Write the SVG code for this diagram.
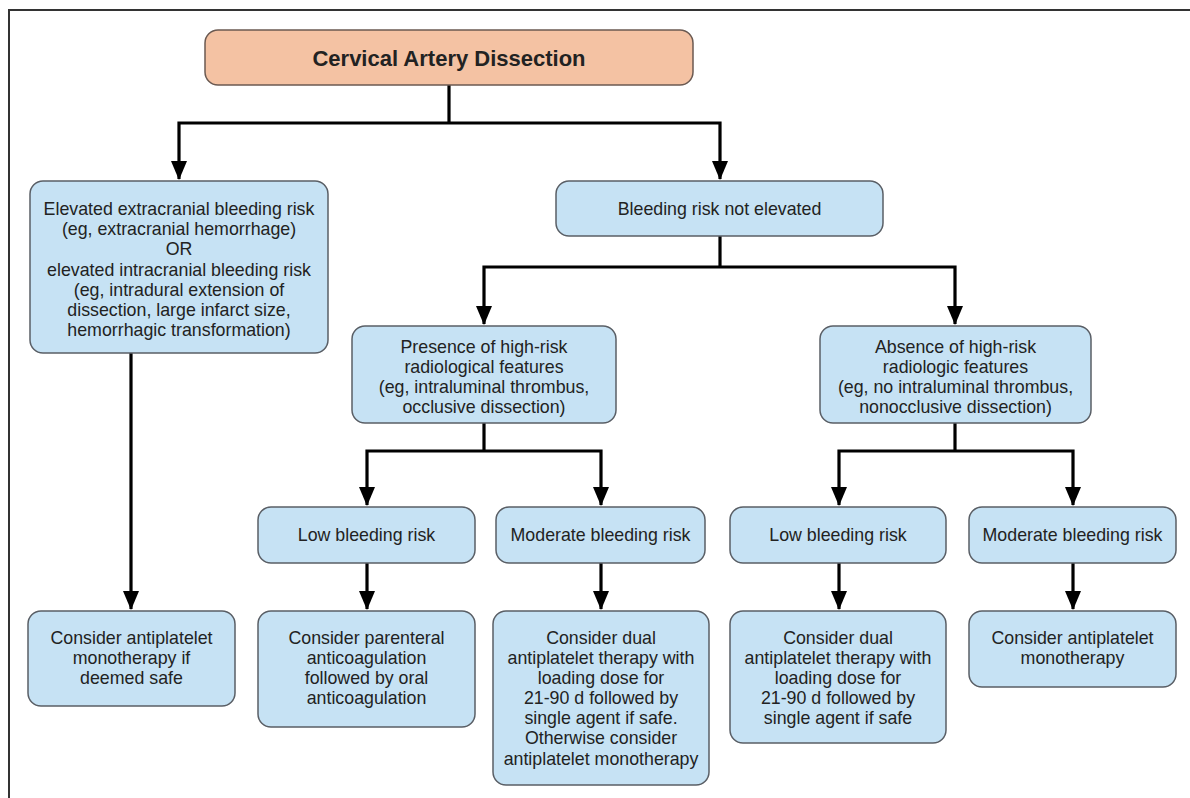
<svg xmlns="http://www.w3.org/2000/svg" width="1190" height="798" viewBox="0 0 1190 798">
<style>
  .box { fill: #c6e2f4; stroke: #5a5f66; stroke-width: 1.5; }
  .top { fill: #f4c2a3; stroke: #6b5a52; stroke-width: 1.5; }
  text { font-family: "Liberation Sans", Arial, sans-serif; font-size: 17.8px; fill: #222; text-anchor: middle; }
  .title { font-size: 22px; font-weight: bold; }
  .conn path { fill: none; stroke: #000; stroke-width: 3.2; }
  .frame { fill: none; stroke: #333; stroke-width: 2; }
</style>
<defs>
  <marker id="arr" viewBox="0 0 19 16" refX="18" refY="8" markerWidth="19" markerHeight="16" markerUnits="userSpaceOnUse" orient="auto">
    <path d="M0,0 L19,8 L0,16 Z" fill="#000"/>
  </marker>
</defs>
<rect width="1190" height="798" fill="#fff"/>
<path class="frame" d="M9,798 V10 H1190"/>

<g class="conn" id="connectors">
  <path d="M449,85 V123"/>
  <path d="M449,123 H179 V179" marker-end="url(#arr)"/>
  <path d="M449,123 H720 V179" marker-end="url(#arr)"/>
  <path d="M720,236 V267"/>
  <path d="M720,267 H484 V324" marker-end="url(#arr)"/>
  <path d="M720,267 H955 V324" marker-end="url(#arr)"/>
  <path d="M484,423 V451"/>
  <path d="M484,451 H367 V505" marker-end="url(#arr)"/>
  <path d="M484,451 H601 V505" marker-end="url(#arr)"/>
  <path d="M955,423 V451"/>
  <path d="M955,451 H839 V505" marker-end="url(#arr)"/>
  <path d="M955,451 H1073 V505" marker-end="url(#arr)"/>
  <path d="M131,353 V609" marker-end="url(#arr)"/>
  <path d="M367,563 V609" marker-end="url(#arr)"/>
  <path d="M601,563 V609" marker-end="url(#arr)"/>
  <path d="M839,563 V609" marker-end="url(#arr)"/>
  <path d="M1073,563 V609" marker-end="url(#arr)"/>
</g>

<g id="n-root">
  <rect class="top" x="205" y="30" width="488" height="55" rx="13"/>
  <text class="title" x="449" y="65.5">Cervical Artery Dissection</text>
</g>

<g id="n-elevated">
  <rect class="box" x="30" y="181" width="298" height="172" rx="13"/>
  <text x="179" y="215">Elevated extracranial bleeding risk</text>
  <text x="179" y="235">(eg, extracranial hemorrhage)</text>
  <text x="179" y="255">OR</text>
  <text x="179" y="275.5">elevated intracranial bleeding risk</text>
  <text x="179" y="295.5">(eg, intradural extension of</text>
  <text x="179" y="316">dissection, large infarct size,</text>
  <text x="179" y="336">hemorrhagic transformation)</text>
</g>

<g id="n-notelevated">
  <rect class="box" x="556" y="181" width="327" height="55" rx="13"/>
  <text x="719.5" y="215">Bleeding risk not elevated</text>
</g>

<g id="n-presence">
  <rect class="box" x="352" y="326" width="264" height="97" rx="13"/>
  <text x="484" y="353">Presence of high-risk</text>
  <text x="484" y="373">radiological features</text>
  <text x="484" y="393">(eg, intraluminal thrombus,</text>
  <text x="484" y="413">occlusive dissection)</text>
</g>

<g id="n-absence">
  <rect class="box" x="820" y="326" width="271" height="97" rx="13"/>
  <text x="955.5" y="353">Absence of high-risk</text>
  <text x="955.5" y="373">radiologic features</text>
  <text x="955.5" y="393">(eg, no intraluminal thrombus,</text>
  <text x="955.5" y="413">nonocclusive dissection)</text>
</g>

<g id="n-low1">
  <rect class="box" x="258" y="507" width="217" height="56" rx="13"/>
  <text x="366.5" y="541">Low bleeding risk</text>
</g>

<g id="n-mod1">
  <rect class="box" x="496" y="507" width="209" height="56" rx="13"/>
  <text x="600.5" y="541">Moderate bleeding risk</text>
</g>

<g id="n-low2">
  <rect class="box" x="730" y="507" width="216" height="56" rx="13"/>
  <text x="838" y="541">Low bleeding risk</text>
</g>

<g id="n-mod2">
  <rect class="box" x="969" y="507" width="207" height="56" rx="13"/>
  <text x="1072.5" y="541">Moderate bleeding risk</text>
</g>

<g id="n-res-elevated">
  <rect class="box" x="28" y="611" width="207" height="95" rx="13"/>
  <text x="131.5" y="644">Consider antiplatelet</text>
  <text x="131.5" y="664">monotherapy if</text>
  <text x="131.5" y="684">deemed safe</text>
</g>

<g id="n-res-low1">
  <rect class="box" x="258" y="611" width="217" height="116" rx="13"/>
  <text x="366.5" y="644">Consider parenteral</text>
  <text x="366.5" y="664">anticoagulation</text>
  <text x="366.5" y="684">followed by oral</text>
  <text x="366.5" y="704">anticoagulation</text>
</g>

<g id="n-res-mod1">
  <rect class="box" x="493" y="611" width="216" height="174" rx="13"/>
  <text x="601" y="644">Consider dual</text>
  <text x="601" y="664">antiplatelet therapy with</text>
  <text x="601" y="684">loading dose for</text>
  <text x="601" y="704">21-90 d followed by</text>
  <text x="601" y="724">single agent if safe.</text>
  <text x="601" y="744">Otherwise consider</text>
  <text x="601" y="765">antiplatelet monotherapy</text>
</g>

<g id="n-res-low2">
  <rect class="box" x="730" y="611" width="216" height="132" rx="13"/>
  <text x="838" y="644">Consider dual</text>
  <text x="838" y="664">antiplatelet therapy with</text>
  <text x="838" y="684">loading dose for</text>
  <text x="838" y="704">21-90 d followed by</text>
  <text x="838" y="724">single agent if safe</text>
</g>

<g id="n-res-mod2">
  <rect class="box" x="969" y="611" width="207" height="76" rx="13"/>
  <text x="1072.5" y="644">Consider antiplatelet</text>
  <text x="1072.5" y="664">monotherapy</text>
</g>
</svg>
